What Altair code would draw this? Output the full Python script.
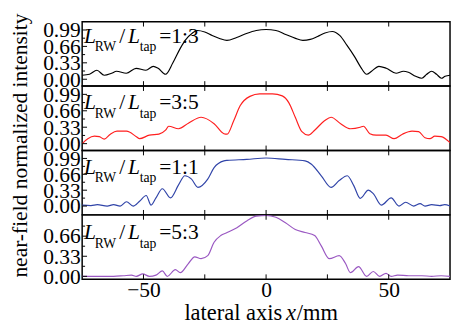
import altair as alt
import pandas as pd

# ---------------- data ----------------
x_label_ticks = [-50, 0, 50]
x_all_ticks = [-50, -25, 0, 25, 50]
y_ticks_full = [0.0, 0.33, 0.66, 0.99]
y_ticks_last = [0.0, 0.33, 0.66]
y_minor = [0.165, 0.495, 0.825]

ratios = ["1:3", "3:5", "1:1", "5:3"]
colors = ["#000000", "#ff1f1f", "#3044a8", "#9a58c2"]

x1 = [-75, -72, -69, -66, -63, -61, -57, -53, -49, -46, -44, -41, -38, -35, -33, -30, -28, -25, -22, -19,
      -16, -12, -8, -4, 0, 4, 8, 12, 15, 18, 21, 24, 27, 30, 33, 36, 38.5, 41, 43, 46,
      49, 53, 56, 58, 61, 63.5, 65.5, 67.5, 69.5, 71.5, 73, 75]
v1 = [0.08, 0.10, 0.18, 0.08, 0.12, 0.16, 0.12, 0.22, 0.18, 0.26, 0.22, 0.10, 0.33, 0.62, 0.78, 0.93, 0.98, 0.95, 0.88, 0.82,
      0.78, 0.84, 0.92, 0.98, 1.0, 0.98, 0.90, 0.82, 0.78, 0.80, 0.86, 0.93, 0.96, 0.88, 0.68, 0.46, 0.25, 0.10, 0.16, 0.26,
      0.22, 0.12, 0.16, 0.14, 0.06, 0.02, 0.10, 0.16, 0.10, 0.02, 0.06, 0.08]

x2 = [-75, -72.7, -70, -68, -66, -63.5, -60.8, -56.9, -52.9, -51.6, -47.6, -43.7, -41, -39.7, -35.7, -31.7, -26.5, -21.2,
      -17.2, -15.9, -13.2, -10.6, -6.6, -2.6, 2.6, 6.6, 9.3, 11.9, 14.6, 17.2, 19.8, 23.8, 26.5, 30.4, 34.4, 38.4, 39.7,
      42.3, 44.9, 48.9, 52.2, 55.6, 59.5, 62.2, 64.8, 66.8, 68.8, 71.4, 75]
v2 = [0.0, 0.10, 0.15, 0.14, 0.09, 0.19, 0.25, 0.25, 0.14, 0.10, 0.17, 0.19, 0.27, 0.35, 0.30, 0.41, 0.53, 0.40,
      0.20, 0.19, 0.46, 0.76, 0.95, 1.0, 1.0, 0.96, 0.82, 0.53, 0.24, 0.17, 0.27, 0.46, 0.53, 0.40, 0.30, 0.33, 0.35,
      0.20, 0.17, 0.17, 0.10, 0.19, 0.25, 0.24, 0.12, 0.10, 0.15, 0.14, 0.02]

x3 = [-75, -71.4, -68.8, -64.8, -62.2, -59.5, -56.9, -54.2, -51.6, -48.9, -46.9, -44.9, -42.3, -39, -35.7, -33.1, -30.4,
      -27.8, -23.8, -21.2, -17.2, -15.9, -7.9, 0, 7.9, 15.9, 18.5, 22.5, 26.5, 29.8, 33.1, 35.7, 38.4, 41.7, 43.7, 47,
      51, 54.2, 56.9, 60.2, 62.8, 64.8, 67.5, 70.8, 72.8, 75]
v3 = [0.02, 0.01, 0.03, 0.0, 0.03, 0.0, 0.09, 0.0, 0.10, 0.22, 0.02, 0.17, 0.36, 0.17, 0.44, 0.63, 0.56,
      0.39, 0.56, 0.80, 0.94, 0.95, 0.97, 1.0, 0.97, 0.94, 0.87, 0.63, 0.39, 0.53, 0.63, 0.43, 0.16, 0.33, 0.26, 0.02,
      0.17, 0.0, 0.08, 0.0, 0.05, 0.0, 0.03, 0.01, 0.03, 0.0]

x4 = [-75, -70, -66, -62.2, -58.2, -54.9, -52.9, -50.3, -47.6, -44.9, -42.3, -40.3, -37, -35, -31.7, -29.1, -26.5,
      -23.8, -21.2, -18.5, -15.9, -11.9, -7.9, -4, 0, 4, 7.9, 11.9, 15.9, 19.8, 22.5, 25.8, 29.8, 32.4, 34.4, 37.7,
      41, 43.7, 46.3, 48.9, 51, 53.6, 58.2, 63.5, 67.5, 71.4, 75]
v4 = [0.0, 0.0, 0.0, 0.0, 0.01, 0.02, 0.0, 0.04, 0.0, 0.02, 0.09, 0.0, 0.11, 0.06, 0.21, 0.32, 0.29,
      0.34, 0.56, 0.67, 0.72, 0.80, 0.91, 0.99, 1.0, 0.97, 0.88, 0.77, 0.72, 0.67, 0.50, 0.29, 0.34, 0.21, 0.06, 0.16,
      0.0, 0.08, 0.0, 0.05, 0.0, 0.02, 0.01, 0.01, 0.0, 0.01, 0.0]

series_x = [x1, x2, x3, x4]
series_v = [v1, v2, v3, v4]

# ---------------- layout ----------------
FONT = "Liberation Serif"
W, H = 377, 66
domains = [[-0.137, 1.157], [-0.137, 1.157], [-0.183, 1.156], [-0.048, 1.01]]
label_base = [22, 24, 24, 25]

one = pd.DataFrame({"d": [0]})


def txt(s, x, y, size, italic=False, align="left", angle=None, baseline="alphabetic"):
    kw = dict(text=s, font=FONT, fontSize=size, color="black", align=align, baseline=baseline)
    if italic:
        kw["fontStyle"] = "italic"
    if angle is not None:
        kw["angle"] = angle
    return alt.Chart(one).mark_text(**kw).encode(x=alt.value(x), y=alt.value(y))


def panel(i):
    last = i == 3
    yvals = y_ticks_last if last else y_ticks_full
    xscale = alt.Scale(domain=[-75, 75], nice=False, zero=False)
    yscale = alt.Scale(domain=domains[i], nice=False, zero=False)
    if last:
        xaxis = alt.Axis(values=x_label_ticks, title=None, ticks=False, domain=False, grid=False,
                         labelFont=FONT, labelFontSize=22, labelColor="black", labelPadding=1,
                         labelFlush=False, format="d")
    else:
        xaxis = None
    yaxis = alt.Axis(values=yvals, title=None, ticks=False, domain=False, grid=False, format=".2f",
                     labelFont=FONT, labelFontSize=22, labelColor="black", labelPadding=2,
                     labelOverlap=False, labelFlush=False)

    df = pd.DataFrame({"x": series_x[i], "v": series_v[i]})
    line = alt.Chart(df).mark_line(color=colors[i], strokeWidth=1.2, interpolate="monotone", clip=True).encode(
        x=alt.X("x:Q", scale=xscale, axis=xaxis),
        y=alt.Y("v:Q", scale=yscale, axis=yaxis),
    )

    ymaj = alt.Chart(pd.DataFrame({"v": yvals})).mark_rule(color="black", strokeWidth=1).encode(
        y=alt.Y("v:Q", scale=yscale, axis=yaxis), x=alt.value(0), x2=alt.value(5))
    ymin = alt.Chart(pd.DataFrame({"v": y_minor})).mark_rule(color="black", strokeWidth=1).encode(
        y=alt.Y("v:Q", scale=yscale, axis=yaxis), x=alt.value(0), x2=alt.value(3))
    xtop = alt.Chart(pd.DataFrame({"x": x_all_ticks})).mark_rule(color="black", strokeWidth=1).encode(
        x=alt.X("x:Q", scale=xscale, axis=xaxis), y=alt.value(0), y2=alt.value(5))
    xbot = alt.Chart(pd.DataFrame({"x": x_all_ticks})).mark_rule(color="black", strokeWidth=1).encode(
        x=alt.X("x:Q", scale=xscale, axis=xaxis), y=alt.value(H - 5), y2=alt.value(H))

    b = label_base[i]
    layers = [line, ymaj, ymin, xtop, xbot,
              txt("L", 2, b, 22, italic=True),
              txt("RW", 13, b + 8.5, 14),
              txt("/", 38, b, 22),
              txt("L", 47, b, 22, italic=True),
              txt("tap", 59, b + 8.5, 14),
              txt("=" + ratios[i], 79, b, 22)]
    if i == 1:
        layers.append(txt("near-field normalized intensity", -57, 61, 22, angle=270, align="center"))
    if last:
        layers.append(txt("lateral axis", 205, H + 42, 23, align="right"))
        layers.append(txt("x", 209, H + 42, 23, italic=True))
        layers.append(txt("/mm", 220, H + 42, 23))
    return alt.layer(*layers).properties(width=W, height=H)


chart = alt.vconcat(*[panel(i) for i in range(4)], spacing=0, bounds="flush").properties(
    padding={"left": 0, "top": 0, "right": 0, "bottom": 0},
    background="white",
).configure_view(stroke="black", strokeWidth=1.5).configure_concat(spacing=0)

chart.save("out.html", embed_options={"renderer": "svg", "actions": False})
